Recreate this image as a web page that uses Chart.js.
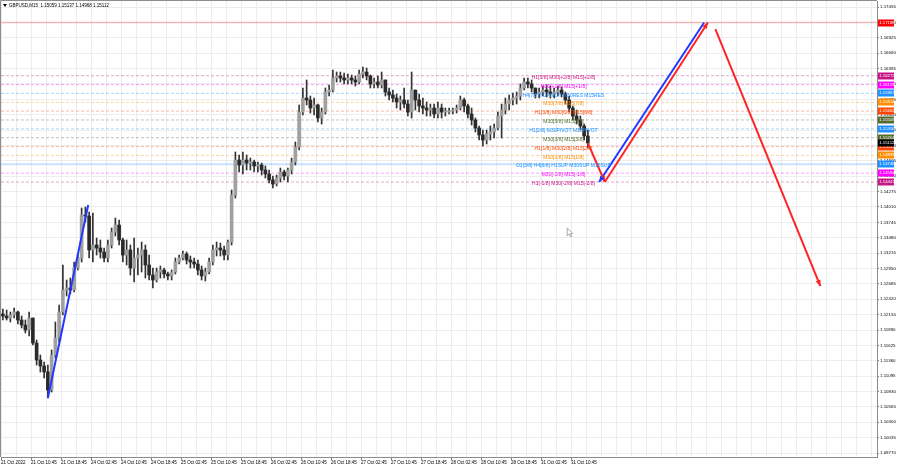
<!DOCTYPE html>
<html>
<head>
<meta charset="utf-8">
<title>GBPUSD,M15</title>
<script src="https://cdn.jsdelivr.net/npm/chart.js@4.4.1/dist/chart.umd.min.js"></script>
<style>
    html, body { margin: 0; padding: 0; background: #fff; }
    #wrap { width: 900px; height: 468px; }
</style>
</head>
<body>
<div id="wrap"><canvas id="canvas" width="900" height="468"></canvas></div>
<script>
// GBPUSD M15, 21 Oct - 31 Oct 2022. One candle here = one hour (4 M15 bars)
var barsPerCandle = 4;
var firstOpen = 1.12166;

var highs = [
    1.12252, 1.12235, 1.12200, 1.12269, 1.12217, 1.12131, 1.12062, 1.12200, 1.12097, 1.11718,
    1.11459, 1.11339, 1.11287, 1.11546, 1.12028, 1.12321, 1.13010, 1.12752, 1.12786, 1.13062,
    1.13182, 1.13992, 1.14009, 1.13923, 1.13906, 1.13475, 1.13441, 1.13303, 1.13441, 1.13648,
    1.13820, 1.13785, 1.13475, 1.13441, 1.13355, 1.13475, 1.13303, 1.13406, 1.13355, 1.13182,
    1.12958, 1.12958, 1.12993, 1.12958, 1.12890, 1.12924, 1.13131, 1.13182, 1.13251, 1.13234,
    1.13165, 1.13131, 1.13096, 1.12993, 1.12958, 1.13131, 1.13355, 1.13406, 1.13389, 1.13338,
    1.13441, 1.14302, 1.14957, 1.14905, 1.14957, 1.14905, 1.14853, 1.14819, 1.14785, 1.14767,
    1.14716, 1.14647, 1.14543, 1.14561, 1.14681, 1.14647, 1.14681, 1.14853, 1.15129, 1.15767,
    1.16060, 1.16198, 1.15922, 1.15887, 1.15784, 1.15715, 1.16060, 1.16111, 1.16370, 1.16335,
    1.16335, 1.16318, 1.16301, 1.16284, 1.16267, 1.16370, 1.16422, 1.16404, 1.16284, 1.16232,
    1.16267, 1.16335, 1.16198, 1.16060, 1.16025, 1.15956, 1.15922, 1.16060, 1.15853, 1.16335,
    1.16025, 1.15956, 1.15887, 1.15819, 1.15784, 1.15784, 1.15819, 1.15784, 1.15715, 1.15715,
    1.15715, 1.15767, 1.15922, 1.15887, 1.15784, 1.15715, 1.15543, 1.15405, 1.15336, 1.15336,
    1.15405, 1.15439, 1.15646, 1.15784, 1.15887, 1.15939, 1.15974, 1.15991, 1.16129, 1.16232,
    1.16232, 1.16198, 1.16060, 1.16060, 1.16094, 1.16111, 1.16094, 1.16060, 1.16094, 1.16077,
    1.15991, 1.15922, 1.15750, 1.15681, 1.15577, 1.15439, 1.15336
];
var lows = [
    1.12062, 1.12062, 1.12028, 1.12097, 1.11993, 1.11925, 1.11839, 1.11787, 1.11632, 1.11287,
    1.11167, 1.11063, 1.10719, 1.10822, 1.11408, 1.11683, 1.12149, 1.12476, 1.12511, 1.12545,
    1.12924, 1.13062, 1.13751, 1.13131, 1.13062, 1.13182, 1.13131, 1.13062, 1.13062, 1.13303,
    1.13510, 1.13355, 1.13062, 1.13010, 1.12838, 1.12717, 1.12838, 1.12890, 1.12786, 1.12752,
    1.12614, 1.12717, 1.12786, 1.12786, 1.12752, 1.12752, 1.12855, 1.13027, 1.13096, 1.13027,
    1.12958, 1.12958, 1.12838, 1.12752, 1.12735, 1.12855, 1.13010, 1.13165, 1.13165, 1.13096,
    1.13096, 1.13355, 1.14164, 1.14612, 1.14578, 1.14647, 1.14647, 1.14612, 1.14612, 1.14561,
    1.14509, 1.14423, 1.14337, 1.14371, 1.14440, 1.14475, 1.14440, 1.14578, 1.14733, 1.14991,
    1.15595, 1.15767, 1.15629, 1.15595, 1.15474, 1.15439, 1.15612, 1.15922, 1.15991, 1.16163,
    1.16163, 1.16129, 1.16129, 1.16129, 1.16094, 1.16129, 1.16232, 1.16198, 1.16060, 1.16060,
    1.16060, 1.16060, 1.15922, 1.15853, 1.15819, 1.15715, 1.15681, 1.15715, 1.15577, 1.15543,
    1.15681, 1.15646, 1.15612, 1.15577, 1.15577, 1.15543, 1.15543, 1.15543, 1.15577, 1.15612,
    1.15612, 1.15629, 1.15681, 1.15646, 1.15543, 1.15422, 1.15302, 1.15164, 1.15060, 1.15095,
    1.15164, 1.15198, 1.15336, 1.15198, 1.15612, 1.15681, 1.15767, 1.15784, 1.15853, 1.16025,
    1.16060, 1.15991, 1.15887, 1.15887, 1.15922, 1.15905, 1.15887, 1.15887, 1.15922, 1.15905,
    1.15784, 1.15646, 1.15508, 1.15439, 1.15336, 1.15164, 1.15026
];
var closes = [
    1.12131, 1.12097, 1.12149, 1.12200, 1.12062, 1.11976, 1.11890, 1.12097, 1.11666, 1.11373,
    1.11270, 1.11167, 1.10856, 1.11459, 1.11753, 1.12200, 1.12579, 1.12614, 1.12579, 1.12958,
    1.13131, 1.13872, 1.13854, 1.13269, 1.13355, 1.13303, 1.13234, 1.13131, 1.13355, 1.13579,
    1.13699, 1.13441, 1.13182, 1.13269, 1.12958, 1.13131, 1.13182, 1.13269, 1.13010, 1.12838,
    1.12752, 1.12890, 1.12924, 1.12855, 1.12821, 1.12890, 1.13062, 1.13131, 1.13200, 1.13096,
    1.13062, 1.13027, 1.12924, 1.12821, 1.12890, 1.13062, 1.13269, 1.13303, 1.13269, 1.13182,
    1.13406, 1.14216, 1.14819, 1.14733, 1.14819, 1.14767, 1.14785, 1.14716, 1.14733, 1.14647,
    1.14578, 1.14475, 1.14406, 1.14509, 1.14612, 1.14543, 1.14647, 1.14785, 1.15043, 1.15646,
    1.15887, 1.15853, 1.15715, 1.15767, 1.15543, 1.15646, 1.15991, 1.16025, 1.16232, 1.16267,
    1.16232, 1.16198, 1.16232, 1.16198, 1.16163, 1.16301, 1.16335, 1.16267, 1.16129, 1.16163,
    1.16111, 1.16198, 1.15991, 1.15939, 1.15887, 1.15819, 1.15853, 1.15784, 1.15646, 1.16025,
    1.15853, 1.15750, 1.15715, 1.15681, 1.15715, 1.15612, 1.15715, 1.15646, 1.15646, 1.15663,
    1.15681, 1.15715, 1.15853, 1.15750, 1.15612, 1.15508, 1.15371, 1.15250, 1.15164, 1.15267,
    1.15302, 1.15371, 1.15577, 1.15681, 1.15784, 1.15853, 1.15887, 1.15922, 1.16060, 1.16163,
    1.16129, 1.16060, 1.15956, 1.15991, 1.16025, 1.15991, 1.15956, 1.15991, 1.16025, 1.15956,
    1.15853, 1.15715, 1.15577, 1.15508, 1.15405, 1.15233, 1.15112
];

// time labels every 32 M15 bars (8 hours)
var xTickLabels = [
    '21 Oct 2022', '21 Oct 10:45', '21 Oct 18:45', '24 Oct 02:45', '24 Oct 10:45',
    '24 Oct 18:45', '25 Oct 02:45', '25 Oct 10:45', '25 Oct 18:45', '26 Oct 02:45',
    '26 Oct 10:45', '26 Oct 18:45', '27 Oct 02:45', '27 Oct 10:45', '27 Oct 18:45',
    '28 Oct 02:45', '28 Oct 10:45', '28 Oct 18:45', '31 Oct 02:45', '31 Oct 10:45'
];
var yTickLabels = [
    '1.09770', '1.10035', '1.10300', '1.10565', '1.10830', '1.11095', '1.11360', '1.11625',
    '1.11890', '1.12155', '1.12420', '1.12685', '1.12950', '1.13215', '1.13480', '1.13745',
    '1.14010', '1.14275', '1.14540', '1.14805', '1.15070', '1.15335', '1.15600', '1.15865',
    '1.16130', '1.16395', '1.16660', '1.16925', '1.17190', '1.17455'
];

// Murrey math levels
var levelPrices = [
    1.16272, 1.16119, 1.15967, 1.15814, 1.15662, 1.15509, 1.15356,
    1.15204, 1.15051, 1.14899, 1.14746, 1.14594, 1.14441
];
var levelNames = [
    'H1[5/8] M30[+2/8] M15[+2/8]',
    'M30[+1/8] M15[+1/8]',
    'H4[7/8] H1PIVOT M30RES M15RES',
    'M30[7/8] M15[7/8]',
    'H1[3/8] M30[6/8] M15[6/8]',
    'M30[5/8] M15[5/8]',
    'H1[2/8] M30PIVOT M15PIVOT',
    'M30[3/8] M15[3/8]',
    'H1[1/8] M30[2/8] M15[2/8]',
    'M30[1/8] M15[1/8]',
    'D1[3/8] H4[6/8] H1SUP M30SUP M15SUP',
    'M30[-1/8] M15[-1/8]',
    'H1[-1/8] M30[-2/8] M15[-2/8]'
];

var targetPrice = 1.17188;
var bidPrice = 1.15112;
var headerSymbol = 'GBPUSD,M15';
var headerOhlc = ['1.15059', '1.15137', '1.14968', '1.15112'];

// drawn trend lines, [bar, price]
var blueLeft = [[50, 1.10719], [93, 1.14044]];
var redDown1 = [[626, 1.15112], [644, 1.14441]];
var blueUp = [[638, 1.14441], [750, 1.17188]];
var redUp = [[644, 1.14441], [754, 1.17188]];
var redDown2 = [[762, 1.17076], [874, 1.12648]];

// styles
var levelColors = [
    '#c71585', '#ff00ff', '#1e90ff', '#ff8c00', '#ff4500', '#556b2f', '#1e90ff',
    '#556b2f', '#ff4500', '#ff8c00', '#1e90ff', '#ff00ff', '#c71585'
];
var xMax = 934.4;
var yMin = 1.09702;
var yMax = 1.17559;
var labelBar = 600;
var FONT = 'Liberation Sans';

function fade(hex, a) {
    var r = parseInt(hex.substr(1, 2), 16);
    var g = parseInt(hex.substr(3, 2), 16);
    var b = parseInt(hex.substr(5, 2), 16);
    return 'rgba(' + r + ',' + g + ',' + b + ',' + a + ')';
}

function toPoints(arr) {
    return arr.map(function (p) { return {x: p[0], y: p[1]}; });
}

var wickData = [];
var bodyData = [];
var bodyColors = [];
for (var i = 0; i < closes.length; i++) {
    var x = i * barsPerCandle + barsPerCandle / 2;
    var open = i === 0 ? firstOpen : closes[i - 1];
    wickData.push({x: x, y: [lows[i], highs[i]]});
    bodyData.push({x: x, y: [open, closes[i]]});
    bodyColors.push(closes[i] >= open ? '#a0a0a0' : '#2a2a2a');
}

var datasets = [];

datasets.push({
    type: 'bar', label: 'wicks', data: wickData, grouped: false,
    barThickness: 1, backgroundColor: '#333333', borderWidth: 0, order: 3
});
datasets.push({
    type: 'bar', label: 'bodies', data: bodyData, grouped: false,
    barThickness: 3, minBarLength: 1, backgroundColor: bodyColors,
    borderWidth: 0, order: 2
});

for (var j = 0; j < levelPrices.length; j++) {
    var solid = levelNames[j].indexOf('D1') === 0;
    datasets.push({
        type: 'line', label: levelNames[j],
        data: [{x: 0, y: levelPrices[j]}, {x: xMax, y: levelPrices[j]}],
        borderColor: fade(levelColors[j], solid ? 0.25 : 0.38),
        borderWidth: solid ? 2 : 1,
        borderDash: solid ? [] : [3, 2],
        pointRadius: 0, order: 10
    });
}

datasets.push({
    type: 'line', label: 'target',
    data: [{x: 0, y: targetPrice}, {x: xMax, y: targetPrice}],
    borderColor: 'rgba(255,70,70,0.35)', borderWidth: 1.6, pointRadius: 0, order: 10
});

function trend(label, pts, color, arrow) {
    return {
        type: 'line', label: label, data: toPoints(pts), borderColor: color,
        borderWidth: 2, pointRadius: 0, order: 0, arrow: arrow
    };
}
datasets.push(trend('blueLeft', blueLeft, '#2238ff', null));
datasets.push(trend('redDown1', redDown1, '#ff2424', 'end'));
datasets.push(trend('blueUp', blueUp, '#2238ff', 'start'));
datasets.push(trend('redUp', redUp, '#ff2424', 'end'));
datasets.push(trend('redDown2', redDown2, '#ff2424', 'end'));

function arrowHead(ctx, x1, y1, x2, y2, color) {
    var a = Math.atan2(y2 - y1, x2 - x1);
    var len = 6, w = 2.6;
    ctx.fillStyle = color;
    ctx.beginPath();
    ctx.moveTo(x2, y2);
    ctx.lineTo(x2 - len * Math.cos(a) + w * Math.sin(a), y2 - len * Math.sin(a) - w * Math.cos(a));
    ctx.lineTo(x2 - len * Math.cos(a) - w * Math.sin(a), y2 - len * Math.sin(a) + w * Math.cos(a));
    ctx.closePath();
    ctx.fill();
}

function priceBox(ctx, left, y, price, color) {
    ctx.fillStyle = color;
    ctx.fillRect(left, Math.round(y) - 3.5, 16, 7);
    ctx.fillStyle = '#fff';
    ctx.font = '4.3px "' + FONT + '"';
    ctx.textAlign = 'left';
    ctx.textBaseline = 'middle';
    ctx.fillText(price.toFixed(5), left + 1.2, Math.round(y) + 0.2);
}

var overlay = {
    id: 'overlay',
    afterDatasetsDraw: function (chart) {
        var ctx = chart.ctx;
        var xs = chart.scales.x, ys = chart.scales.y;
        ctx.save();

        // level captions
        ctx.font = '5px "' + FONT + '"';
        ctx.textAlign = 'center';
        ctx.textBaseline = 'middle';
        for (var k = 0; k < levelPrices.length; k++) {
            ctx.fillStyle = levelColors[k];
            ctx.fillText(levelNames[k], xs.getPixelForValue(labelBar), ys.getPixelForValue(levelPrices[k]) + 1.8);
        }

        // arrow heads
        chart.data.datasets.forEach(function (ds) {
            if (!ds.arrow) return;
            var d = ds.data;
            var a = ds.arrow === 'end' ? d[0] : d[d.length - 1];
            var b = ds.arrow === 'end' ? d[d.length - 1] : d[0];
            arrowHead(ctx, xs.getPixelForValue(a.x), ys.getPixelForValue(a.y),
                xs.getPixelForValue(b.x), ys.getPixelForValue(b.y), ds.borderColor);
        });

        // mouse pointer left on the chart
        var cx = xs.getPixelForValue(604), cy = ys.getPixelForValue(1.1365);
        ctx.beginPath();
        ctx.moveTo(cx, cy);
        ctx.lineTo(cx, cy + 8);
        ctx.lineTo(cx + 2, cy + 6.2);
        ctx.lineTo(cx + 3.4, cy + 9);
        ctx.lineTo(cx + 4.6, cy + 8.4);
        ctx.lineTo(cx + 3.2, cy + 5.7);
        ctx.lineTo(cx + 5.6, cy + 5.7);
        ctx.closePath();
        ctx.fillStyle = '#fff';
        ctx.fill();
        ctx.strokeStyle = '#888';
        ctx.lineWidth = 0.7;
        ctx.stroke();
        ctx.restore();
    },
    afterDraw: function (chart) {
        var ctx = chart.ctx;
        var ys = chart.scales.y;
        var area = chart.chartArea;
        ctx.save();

        // frame top and left
        ctx.strokeStyle = '#8c8c8c';
        ctx.lineWidth = 1;
        ctx.beginPath();
        ctx.moveTo(area.left - 0.5, area.bottom);
        ctx.lineTo(area.left - 0.5, area.top - 0.5);
        ctx.lineTo(area.right, area.top - 0.5);
        ctx.stroke();

        // price boxes on the axis
        var left = ys.left + 1;
        for (var k = 0; k < levelPrices.length; k++) {
            priceBox(ctx, left, ys.getPixelForValue(levelPrices[k]), levelPrices[k], levelColors[k]);
        }
        priceBox(ctx, left, ys.getPixelForValue(targetPrice), targetPrice, '#ff0000');
        priceBox(ctx, left, ys.getPixelForValue(bidPrice), bidPrice, '#000000');

        // header
        ctx.fillStyle = '#000';
        ctx.beginPath();
        ctx.moveTo(area.left + 2, area.top + 3);
        ctx.lineTo(area.left + 6, area.top + 3);
        ctx.lineTo(area.left + 4, area.top + 6);
        ctx.closePath();
        ctx.fill();
        ctx.font = '4.5px "' + FONT + '"';
        ctx.textAlign = 'left';
        ctx.textBaseline = 'middle';
        ctx.fillText(headerSymbol + '  ' + headerOhlc.join(' '), area.left + 8, area.top + 4.5);
        ctx.restore();
    }
};

var CHART = document.getElementById('canvas');
var chart = new Chart(CHART, {
    type: 'bar',
    data: {datasets: datasets},
    options: {
        responsive: false,
        animation: false,
        devicePixelRatio: 1,
        layout: {padding: {left: 1, top: 1, right: 0, bottom: 0}},
        plugins: {legend: {display: false}, tooltip: {enabled: false}},
        scales: {
            x: {
                type: 'linear', min: 0, max: xMax, offset: false,
                grid: {
                    color: '#ededed', offset: false, drawTicks: true, tickLength: 3,
                    tickColor: function (c) {
                        return (c.index % 2 === 0 && c.index / 2 < xTickLabels.length) ? '#808080' : 'rgba(0,0,0,0)';
                    }
                },
                border: {display: true, color: '#8c8c8c'},
                ticks: {
                    autoSkip: false, maxRotation: 0, minRotation: 0, align: 'start', padding: 0,
                    color: '#000', font: {family: FONT, size: 4.5},
                    callback: function (v, idx) {
                        return idx % 2 === 0 ? (xTickLabels[idx / 2] || '') : '';
                    }
                },
                afterBuildTicks: function (scale) {
                    var t = [];
                    for (var v = 0; v <= xMax; v += 16) t.push({value: v});
                    scale.ticks = t;
                },
                afterFit: function (scale) {
                    scale.height = 11;
                    scale.paddingLeft = 0;
                    scale.paddingRight = 0;
                }
            },
            y: {
                type: 'linear', position: 'right', min: yMin, max: yMax, beginAtZero: false,
                grid: {color: '#ededed', drawTicks: true, tickLength: 2, tickColor: '#808080'},
                border: {display: true, color: '#8c8c8c'},
                ticks: {
                    padding: 1, color: '#000', font: {family: FONT, size: 4.4},
                    callback: function (v, idx) { return yTickLabels[idx]; }
                },
                afterBuildTicks: function (scale) {
                    scale.ticks = yTickLabels.map(function (s) { return {value: parseFloat(s)}; });
                },
                afterFit: function (scale) {
                    scale.width = 23;
                    scale.paddingTop = 0;
                    scale.paddingBottom = 0;
                }
            }
        }
    },
    plugins: [overlay]
});
</script>
</body>
</html>
